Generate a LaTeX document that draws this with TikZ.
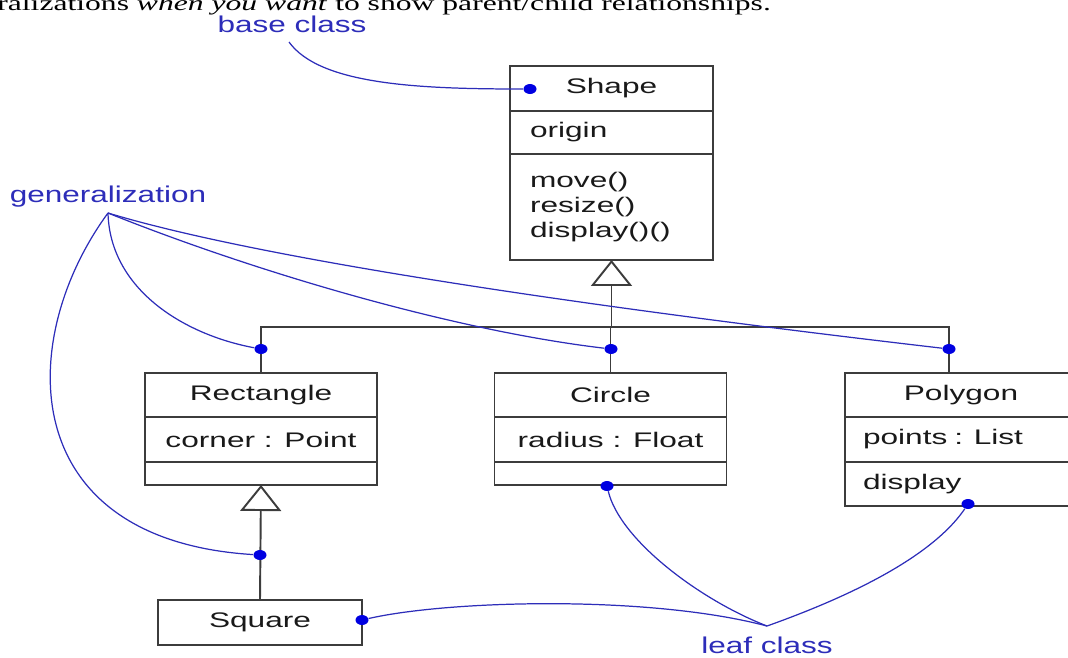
\documentclass[tikz,border=0pt]{standalone}
\usepackage{fontspec}
\setmainfont{Liberation Sans}
\newfontfamily\umlfont[FakeStretch=1.5]{Liberation Sans}
\newfontfamily\notefont[FakeStretch=1.38]{Liberation Sans}
\newfontfamily\bookfont[FakeStretch=1.5]{Liberation Serif}
\usetikzlibrary{positioning,arrows.meta,shapes.geometric}

\definecolor{umlgray}{RGB}{60,60,60}
\definecolor{noteblue}{RGB}{45,45,185}
\definecolor{dotblue}{RGB}{0,0,225}

\tikzset{
  part/.style={draw=umlgray, line width=1.1pt, outer sep=0pt, inner sep=0pt,
    anchor=north, text=black!90, font=\umlfont\fontsize{12}{14.2}\selectfont},
  note/.style={text=noteblue, inner sep=0pt, anchor=base,
    font=\notefont\fontsize{13}{15}\selectfont},
  link/.style={draw=noteblue, line width=0.7pt},
  umlline/.style={draw=umlgray, line width=1.1pt},
  inherit/.style={umlline, -{Triangle[fill=white, length=0.52cm, width=0.82cm]}},
  dot/.style={ellipse, fill=dotblue, minimum width=0.26cm, minimum height=0.2cm, inner sep=0pt}
}

\begin{document}
\begin{tikzpicture}[x=0.02cm, y=-0.02cm]
      \useasboundingbox (0,0) rectangle (1068,657);
      \clip (0,0) rectangle (1068,657);

      \node[anchor=base west, inner sep=0pt, font=\bookfont\fontsize{12}{14}\selectfont]
        (intro) at (-3,10) {ralizations \textit{when you want} to show parent/child relationships.};

      % base class
      \node[part, minimum width=4.06cm, minimum height=0.9cm] (shapeN) at (611.5,66) {Shape};
      \node[part, minimum width=4.06cm, minimum height=0.86cm, text width=3.26cm, align=left,
        below=0pt of shapeN] (shapeA) {origin};
      \node[part, minimum width=4.06cm, minimum height=2.12cm, text width=3.26cm, align=left,
        below=0pt of shapeA] (shapeO) {move()\\resize()\\display()()};

      % children
      \node[part, minimum width=4.64cm, minimum height=0.88cm] (rectN) at (261,373) {Rectangle};
      \node[part, minimum width=4.64cm, minimum height=0.9cm, below=0pt of rectN] (rectA) {corner : Point};
      \node[part, minimum width=4.64cm, minimum height=0.46cm, below=0pt of rectA] (rectO) {};

      \node[part, minimum width=4.64cm, minimum height=0.88cm] (circN) at (610.5,373) {Circle};
      \node[part, minimum width=4.64cm, minimum height=0.9cm, below=0pt of circN] (circA) {radius : Float};
      \node[part, minimum width=4.64cm, minimum height=0.46cm, below=0pt of circA] (circO) {};

      \node[part, minimum width=4.64cm, minimum height=0.88cm] (polyN) at (961,373) {Polygon};
      \node[part, minimum width=4.64cm, minimum height=0.9cm, text width=3.92cm, align=left,
        below=0pt of polyN] (polyA) {points : List};
      \node[part, minimum width=4.64cm, minimum height=0.88cm, text width=3.92cm, align=left,
        below=0pt of polyA] (polyO) {display};

      \node[part, minimum width=4.08cm, minimum height=0.9cm] (square) at (260,600) {Square};

      % generalization tree
      \coordinate (bus)     at (611.5,327);
      \coordinate (polytop) at (949  ,373);
      \draw[umlline] (rectN.north) |- (polytop |- bus) -- (polytop);
      \draw[umlline] (circN.north) -- (circN.north |- bus);
      \draw[inherit] (bus) -- (shapeO.south);
      \draw[inherit] (square.north) -- (rectO.south);

      % dots
      \node[dot] (dshape) at (530,89 ) {};
      \node[dot] (drect)  at (261,349) {};
      \node[dot] (dcirc)  at (611,349) {};
      \node[dot] (dpoly)  at (949,349) {};
      \node[dot] (dsq)    at (260,555) {};
      \node[dot] (dcircb) at (607,486) {};
      \node[dot] (dpolyb) at (968,504) {};
      \node[dot] (dsqr)   at (362,620) {};

      % notes
      \node[note] (lbase) at (292,32 ) {base class};
      \node[note] (lgen)  at (108,202) {generalization};
      \node[note] (lleaf) at (767,653) {leaf class};

      \coordinate (bpt) at (289,42 );
      \coordinate (gpt) at (108,213);
      \coordinate (lpt) at (767,626);

      \draw[link] (bpt) .. controls (320,85 ) and (420,89 ) .. (dshape);

      \draw[link] (gpt) .. controls (110,290) and (185,335) .. (drect);
      \draw[link] (gpt) .. controls (250,270) and (450,330) .. (dcirc);
      \draw[link] (gpt) .. controls (290,268) and (700,320) .. (dpoly);
      \draw[link] (gpt) .. controls (15 ,340) and (15 ,540) .. (dsq);

      \draw[link] (dcircb) .. controls (620,540) and (700,600) .. (lpt);
      \draw[link] (dpolyb) .. controls (930,560) and (840,600) .. (lpt);
      \draw[link] (dsqr)   .. controls (450,600) and (650,595) .. (lpt);
    \end{tikzpicture}
\end{document}
